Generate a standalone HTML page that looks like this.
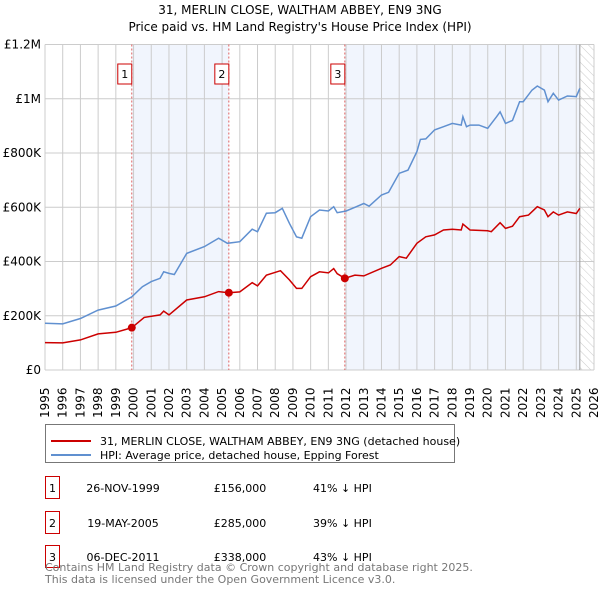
<!DOCTYPE html>
<html><head><meta charset="utf-8"><style>
body{margin:0;background:#fff;font-family:"DejaVu Sans","Liberation Sans",sans-serif;}
svg text{font-family:"DejaVu Sans","Liberation Sans",sans-serif;}
</style></head><body>
<svg id="chart" width="600" height="590" xmlns="http://www.w3.org/2000/svg">
<defs><pattern id="hatch" width="6" height="6" patternUnits="userSpaceOnUse" patternTransform="rotate(-45)"><line x1="0" y1="0" x2="0" y2="6" stroke="#ccc" stroke-width="1"/></pattern></defs>
<text x="300" y="14" font-size="12" text-anchor="middle" fill="#000">31, MERLIN CLOSE, WALTHAM ABBEY, EN9 3NG</text>
<text x="300" y="31" font-size="12" text-anchor="middle" fill="#000">Price paid vs. HM Land Registry's House Price Index (HPI)</text>
<g id="plot"></g>
<g>
<rect x="45.5" y="424.5" width="409" height="38" fill="#fff" stroke="#777"/>
<line x1="51" y1="441" x2="91" y2="441" stroke="#cc0000" stroke-width="2"/>
<text x="100" y="445" font-size="11">31, MERLIN CLOSE, WALTHAM ABBEY, EN9 3NG (detached house)</text>
<line x1="51" y1="461" x2="91" y2="461" stroke="#6090d0" stroke-width="2" transform="translate(0,-6)"/>
<text x="100" y="459" font-size="11">HPI: Average price, detached house, Epping Forest</text>
</g>
<g font-size="11">
<rect x="45.5" y="476.5" width="14" height="22" fill="#fff" stroke="#cc0000"/><text x="52.5" y="492" text-anchor="middle">1</text>
<text x="123" y="492" text-anchor="middle">26-NOV-1999</text><text x="240" y="492" text-anchor="middle">£156,000</text><text x="313" y="492">41% ↓ HPI</text>
<rect x="45.5" y="511.5" width="14" height="22" fill="#fff" stroke="#cc0000"/><text x="52.5" y="527" text-anchor="middle">2</text>
<text x="123" y="527" text-anchor="middle">19-MAY-2005</text><text x="240" y="527" text-anchor="middle">£285,000</text><text x="313" y="527">39% ↓ HPI</text>
<rect x="45.5" y="545.5" width="14" height="22" fill="#fff" stroke="#cc0000"/><text x="52.5" y="561" text-anchor="middle">3</text>
<text x="123" y="561" text-anchor="middle">06-DEC-2011</text><text x="240" y="561" text-anchor="middle">£338,000</text><text x="313" y="561">43% ↓ HPI</text>
</g>
<text x="45" y="571" font-size="11" fill="#777">Contains HM Land Registry data © Crown copyright and database right 2025.</text>
<text x="45" y="583" font-size="11" fill="#777">This data is licensed under the Open Government Licence v3.0.</text>
</svg>
<script>
const yTickValues=[0,200000,400000,600000,800000,1000000,1200000];
const yTickLabels=["£0","£200K","£400K","£600K","£800K","£1M","£1.2M"];
const xYears=[1995,1996,1997,1998,1999,2000,2001,2002,2003,2004,2005,2006,2007,2008,2009,2010,2011,2012,2013,2014,2015,2016,2017,2018,2019,2020,2021,2022,2023,2024,2025,2026];
const saleDates=[1999.9,2005.38,2011.93];
const salePrices=[156000,285000,338000];
const saleLabels=["1","2","3"];
const hpiDates=[1995,1996,1997,1998,1999,1999.9,2000.5,2001,2001.5,2001.7,2002,2002.3,2003,2004,2004.8,2005.3,2006,2006.7,2007,2007.5,2008,2008.4,2008.8,2009.2,2009.5,2010,2010.5,2011,2011.3,2011.5,2012,2012.5,2013,2013.3,2014,2014.4,2015,2015.5,2016,2016.2,2016.5,2017,2017.5,2018,2018.5,2018.6,2018.8,2019,2019.5,2020,2020.5,2020.7,2021,2021.4,2021.8,2022,2022.5,2022.8,2023.2,2023.4,2023.7,2024,2024.5,2025,2025.2];
const hpiValues=[172000,170000,190000,221000,236000,270000,307000,326000,338000,362000,356000,352000,430000,455000,486000,467000,473000,519000,510000,578000,580000,596000,541000,491000,486000,565000,590000,586000,602000,580000,586000,600000,614000,604000,645000,655000,725000,737000,805000,850000,852000,885000,897000,909000,903000,934000,897000,903000,903000,891000,934000,952000,909000,920000,989000,989000,1032000,1047000,1032000,989000,1020000,995000,1010000,1008000,1038000];
const ppDates=[1995,1996,1997,1998,1999,1999.9,2000.6,2001.5,2001.7,2002,2003,2004,2004.8,2005.38,2006,2006.7,2007,2007.5,2008.3,2008.8,2009.2,2009.5,2010,2010.5,2011,2011.3,2011.5,2011.93,2012.5,2013,2014,2014.5,2015,2015.4,2016,2016.5,2017,2017.5,2018,2018.5,2018.6,2019,2020,2020.2,2020.7,2021,2021.4,2021.8,2022.3,2022.8,2023.2,2023.4,2023.7,2024,2024.5,2025,2025.2];
const ppValues=[101000,100000,111000,133000,139000,156000,194000,203000,217000,203000,258000,270000,289000,285000,288000,322000,310000,350000,366000,332000,301000,301000,344000,362000,358000,374000,355000,338000,350000,347000,375000,387000,418000,412000,467000,491000,498000,516000,519000,516000,538000,516000,513000,510000,543000,522000,530000,565000,571000,602000,590000,565000,583000,571000,583000,577000,596000];

const NS="http://www.w3.org/2000/svg";
const L=45,R=594,T=44.5,B=370;
const x=v=>L+(v-1995)/(2026-1995)*(R-L);
const y=v=>B-v/1200000*(B-T);
const g=document.getElementById('plot');
function mk(tag,attrs,parent){const e=document.createElementNS(NS,tag);for(const k in attrs)e.setAttribute(k,attrs[k]);(parent||g).appendChild(e);return e;}
// shading
let e;
e=mk('rect',{x:x(saleDates[0]),y:T,width:x(saleDates[1])-x(saleDates[0]),height:B-T,fill:'#eef3fc',opacity:0.8});


e=mk('rect',{x:x(saleDates[2]),y:T,width:x(2025.2)-x(saleDates[2]),height:B-T,fill:'#eef3fc',opacity:0.8});


e=mk('rect',{x:x(2025.2),y:T,width:R-x(2025.2),height:B-T,fill:'url(#hatch)'});


// grid
xYears.forEach(yr=>{
 e=mk('line',{x1:x(yr),x2:x(yr),y1:T,y2:B,stroke:'#ccc','stroke-width':1});
 
 
 e=mk('text',{transform:`translate(${x(yr)+4},418) rotate(-90)`,'font-size':12,fill:'#000'});
 e.textContent=yr;
 
 
});
yTickValues.forEach((v,i)=>{
 e=mk('line',{x1:L,x2:R,y1:y(v),y2:y(v),stroke:'#ccc','stroke-width':1});
 
 
 e=mk('text',{x:L-4,y:y(v)+4,'font-size':12,'text-anchor':'end',fill:'#000'});
 e.textContent=yTickLabels[i];
 
 
});
e=mk('line',{x1:x(2025.2),x2:x(2025.2),y1:T,y2:B,stroke:'#999','stroke-width':1});


// sale markers lines
saleDates.forEach((d,i)=>{
 e=mk('line',{x1:x(d),x2:x(d),y1:T,y2:B,stroke:'#e06060','stroke-width':1,'stroke-dasharray':'2,2'});
 
 
 e=mk('rect',{x:x(d)-14,y:64,width:14,height:20,fill:'#fff',stroke:'#cc0000'});
 
 
 e=mk('text',{x:x(d)-7,y:78,'font-size':11,'text-anchor':'middle',fill:'#000'});
 e.textContent=saleLabels[i];
 
 
});
function path(ds,vs){return ds.map((d,i)=>(i?'L':'M')+x(d).toFixed(1)+','+y(vs[i]).toFixed(1)).join('');}
e=mk('path',{d:path(hpiDates,hpiValues),fill:'none',stroke:'#6090d0','stroke-width':1.5});


e=mk('path',{d:path(ppDates,ppValues),fill:'none',stroke:'#cc0000','stroke-width':1.5});


saleDates.forEach((d,i)=>{
 e=mk('circle',{cx:x(d),cy:y(salePrices[i]),r:4,fill:'#cc0000'});
 
 
});
</script>
</body></html>
